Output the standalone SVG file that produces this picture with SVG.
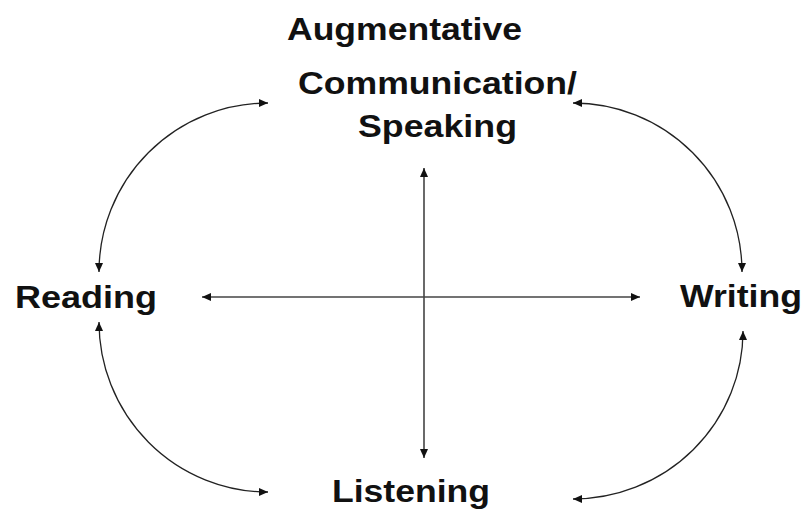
<svg xmlns="http://www.w3.org/2000/svg" width="804" height="510" viewBox="0 0 804 510">
<style>
.lbl{font-family:"Liberation Sans",Arial,Helvetica,sans-serif;font-weight:bold;font-size:32px;fill:#111}
.c{fill:none;stroke:#222;stroke-width:1.3}
.ax{fill:none;stroke:#444;stroke-width:1.6}
</style>
<defs>
<marker id="ah" markerUnits="userSpaceOnUse" markerWidth="10" markerHeight="8" refX="9" refY="4" orient="auto-start-reverse" viewBox="0 0 10 8">
<path d="M0,0 L9,4 L0,8 Z" fill="#111"/>
</marker>
</defs>
<rect width="804" height="510" fill="#fff"/>
<g id="connectors">
<path class="c" d="M 99 272 A 169 169 0 0 1 268 103" marker-start="url(#ah)" marker-end="url(#ah)"/>
<path class="c" d="M 573 103 A 169 169 0 0 1 742 272" marker-start="url(#ah)" marker-end="url(#ah)"/>
<path class="c" d="M 99 322 A 169 170 0 0 0 268 492" marker-start="url(#ah)" marker-end="url(#ah)"/>
<path class="c" d="M 743 331 A 170 168 0 0 1 573 499" marker-start="url(#ah)" marker-end="url(#ah)"/>
<path class="ax" d="M 202 297 L 640 297" marker-start="url(#ah)" marker-end="url(#ah)"/>
<path class="ax" d="M 424 168 L 424 458" marker-start="url(#ah)" marker-end="url(#ah)"/>
</g>
<g id="speaking">
<text class="lbl" x="287" y="40" textLength="235" lengthAdjust="spacingAndGlyphs">Augmentative</text>
<text class="lbl" x="298" y="94" textLength="279" lengthAdjust="spacingAndGlyphs">Communication/</text>
<text class="lbl" x="358" y="137" textLength="159" lengthAdjust="spacingAndGlyphs">Speaking</text>
</g>
<g id="reading">
<text class="lbl" x="15" y="308" textLength="142" lengthAdjust="spacingAndGlyphs">Reading</text>
</g>
<g id="writing">
<text class="lbl" x="680" y="307" textLength="122" lengthAdjust="spacingAndGlyphs">Writing</text>
</g>
<g id="listening">
<text class="lbl" x="332" y="502" textLength="158" lengthAdjust="spacingAndGlyphs">Listening</text>
</g>
</svg>
